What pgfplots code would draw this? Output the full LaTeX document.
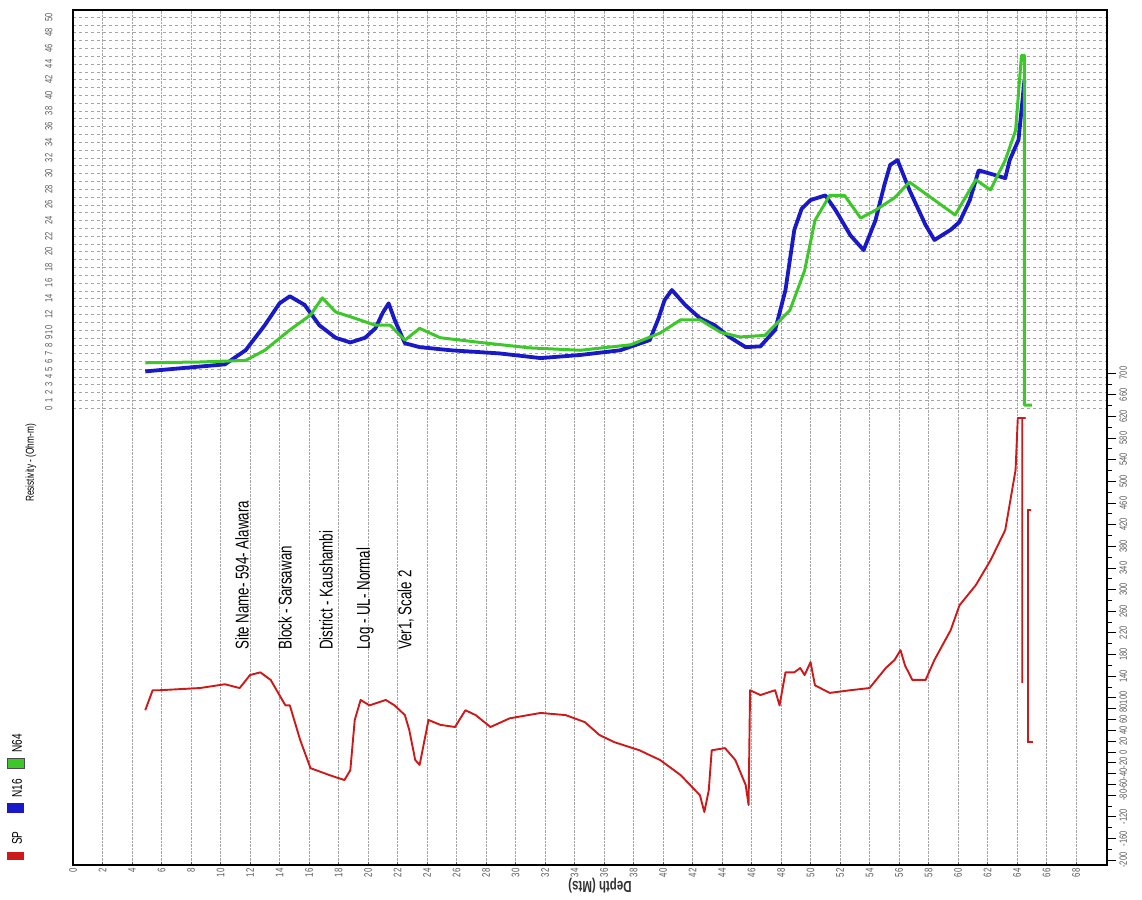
\documentclass[border=0pt]{standalone}
\usepackage{fontspec}
\setmainfont{Liberation Sans}[FakeStretch=0.72]
\usepackage{pgfplots}
\pgfplotsset{compat=1.18}
\definecolor{spred}{RGB}{205,25,25}
\definecolor{nblue}{RGB}{25,25,200}
\definecolor{ngreen}{RGB}{60,200,40}
\definecolor{gridc}{RGB}{165,165,165}
\definecolor{tickc}{RGB}{90,90,90}

\begin{document}
\begin{tikzpicture}[x=1pt,y=1pt]
\useasboundingbox (0,0) rectangle (1142,899);

% resistivity (top scale, left labels)
\begin{axis}[
    at={(73pt,34pt)}, anchor=south west,
    scale only axis, width=1034pt, height=855pt,
    xmin=0, xmax=70.1, ymin=-58.4, ymax=50.9,
    axis line style={black, line width=1.3pt},
    /pgf/number format/assume math mode=true,
    xtick={0,2,...,68}, xtick pos=bottom, major tick length=3pt,
    xtick style={tickc},
    xticklabel style={rotate=90, anchor=east, font=\fontsize{11}{11}\selectfont, text=tickc},
    ytick={0,...,50}, ytick pos=left, ytick style={draw=none},
    yticklabels={0,1,2,3,4,5,6,7,8,9,10,,12,,14,,16,,18,,20,,22,,24,,26,,28,,30,,32,,34,,36,,38,,40,,42,,44,,46,,48,,50},
    yticklabel style={rotate=90, anchor=south, font=\fontsize{10.5}{10.5}\selectfont, text=tickc},
    yticklabel shift=17pt,
    xmajorgrids, ymajorgrids,
    x grid style={gridc, densely dotted, line width=0.7pt},
    y grid style={gridc, dashed, line width=0.5pt},
]
% N16
\addplot[nblue, line width=3.8pt, line join=round] coordinates {
(4.9,4.7) (7.3,5.1) (10.3,5.6) (11.7,7.4) (13.0,10.6) (14.0,13.4) (14.7,14.3)
(15.7,13.2) (16.7,10.6) (17.8,9.0) (18.8,8.4) (19.8,9.0) (20.5,10.2) (21.0,12.2)
(21.4,13.4) (21.8,11.3) (22.5,8.3) (23.5,7.8) (25.6,7.4) (28.9,7.0) (31.7,6.4)
(34.4,6.8) (37.1,7.4) (39.1,8.7) (39.7,11.5) (40.1,13.8) (40.6,15.1) (41.5,13.2)
(42.5,11.5) (43.5,10.6) (44.5,9.1) (45.6,7.8) (46.6,7.9) (47.6,10.0) (48.3,15.1)
(48.9,22.8) (49.4,25.5) (50.0,26.6) (51.0,27.2) (51.7,25.3) (52.7,22.1) (53.6,20.2)
(54.4,24.0) (55.0,28.5) (55.4,31.1) (55.9,31.7) (56.7,27.9) (57.8,23.4) (58.4,21.5)
(59.5,22.8) (60.1,23.8) (60.8,26.6) (61.4,30.4) (62.5,29.8) (63.2,29.4) (63.5,31.7)
(64.1,34.3) (64.5,41.9)
};
% N64
\addplot[ngreen, line width=3pt, line join=round] coordinates {
(4.9,5.8) (8.6,5.9) (11.7,6.1) (13.0,7.4) (14.7,10.0) (16.1,11.9) (16.9,14.1)
(17.8,12.3) (19.1,11.5) (20.5,10.6) (21.5,10.6) (22.5,8.7) (23.5,10.2) (24.9,9.0)
(27.6,8.4) (31.0,7.7) (34.4,7.4) (37.8,8.1) (39.8,9.6) (41.2,11.3) (42.5,11.3)
(43.9,9.7) (45.2,9.1) (46.9,9.3) (48.6,12.5) (49.6,17.6) (50.3,24.0) (51.3,27.2)
(52.3,27.2) (53.4,24.3) (54.4,25.3) (55.7,26.9) (56.7,28.9) (58.4,26.6) (59.8,24.7)
(61.2,29.2) (62.2,27.9) (63.2,31.7) (63.9,35.5) (64.3,45.1) (64.5,45.1)
(64.5,0.4) (65.0,0.4)
};
\end{axis}

% SP (right scale)
\begin{axis}[
    at={(73pt,34pt)}, anchor=south west,
    scale only axis, width=1034pt, height=855pt,
    xmin=0, xmax=70.1, ymin=-209, ymax=1371,
    axis x line=none, axis y line*=right,
    y axis line style={draw=none},
    /pgf/number format/assume math mode=true,
    ytick={-200,-160,-120,-80,-60,-40,-20,0,20,40,60,80,100,140,180,...,700},
    minor ytick={-180,-140,-100,120,160,200,...,680},
    tick align=outside, major tick length=9pt, minor tick length=5pt,
    ytick style={black, line width=0.8pt},
    yticklabel style={rotate=90, anchor=north, font=\fontsize{10.5}{10.5}\selectfont, text=tickc},
]
\addplot[spred, line width=1.9pt, line join=round] coordinates {
(4.9,77) (5.4,114) (5.9,114) (8.6,118) (10.3,125) (11.3,118) (12.0,142) (12.7,147)
(13.4,133) (14.4,86) (14.7,86) (15.4,22) (16.1,-30) (17.4,-43) (18.4,-52) (18.8,-34)
(19.1,59) (19.5,96) (20.1,86) (21.2,96) (21.8,86) (22.5,68) (22.8,40) (23.2,-15)
(23.5,-24) (24.1,59) (24.9,50) (25.9,46) (26.6,77) (27.3,68) (28.3,46) (29.6,62)
(31.7,72) (33.4,68) (34.7,55) (35.7,31) (36.7,18) (38.4,3) (39.8,-15) (41.2,-43)
(42.5,-80) (42.8,-111) (43.1,-71) (43.3,3) (44.2,7) (44.9,-15) (45.6,-61) (45.8,-98)
(45.9,114) (46.6,105) (47.6,114) (47.9,86) (48.3,147) (48.9,147) (49.3,155) (49.6,142)
(50.0,166) (50.3,123) (51.3,109) (52.7,114) (54.0,118) (55.1,155) (55.7,170) (56.1,188)
(56.4,160) (56.9,133) (57.8,133) (58.4,170) (59.5,225) (60.1,271) (61.2,308) (62.2,354)
(63.2,410) (63.9,521) (64.05,617) (64.55,617) (64.35,617) (64.35,127)
};
\addplot[spred, line width=1.4pt] coordinates {
(64.75,447) (64.95,447) (64.75,447) (64.75,18) (65.1,18)
};
\end{axis}

% captions and annotations
\node[rotate=90, font=\fontsize{11.5}{12}\selectfont] at (31,436) {Resistivity - (Ohm-m)};
\node[rotate=180, font=\bfseries\fontsize{16}{16}\selectfont, text=black!80] at (600,13) {Depth (Mts)};

\begin{scope}[every node/.style={rotate=90, anchor=south west, inner sep=0pt, font=\fontsize{18.5}{18}\selectfont}]
\node at (249,249) {Site Name- 594- Alawara};
\node at (292,249) {Block - Sarsawan};
\node at (333,249) {District - Kaushambi};
\node at (374,249) {Log - UL- Normal};
\node at (414,249) {Ver1, Scale 2};
\end{scope}

% legend
\begin{scope}[every node/.style={rotate=90, anchor=west, inner sep=0pt, font=\fontsize{14}{14}\selectfont}]
\fill[spred] (7,39) rectangle (24,47);
\node at (17,54) {SP};
\fill[nblue] (7,86) rectangle (24,96);
\node at (17,101) {N16};
\fill[ngreen] (7,131) rectangle (24,141);
\draw[black!70, line width=0.5pt] (7,131) rectangle (24,141);
\node at (17,146) {N64};
\end{scope}
\end{tikzpicture}
\end{document}
